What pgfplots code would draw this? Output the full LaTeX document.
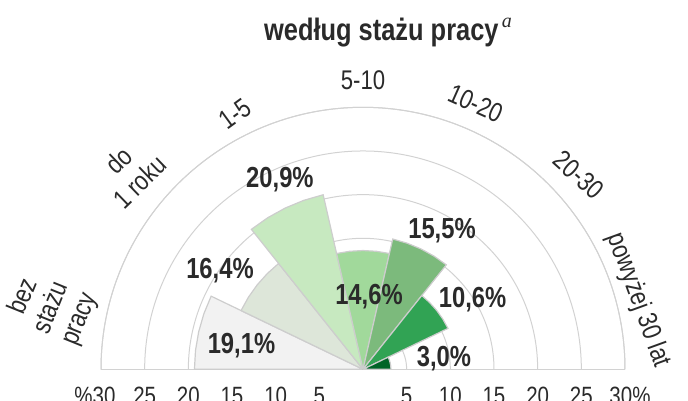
\documentclass[border=0pt]{standalone}
\usepackage{fontspec}
\setmainfont{Liberation Sans}[FakeStretch=0.82]
\newfontfamily\supfont{Liberation Serif}
\usepackage{pgfplots}
\pgfplotsset{compat=1.18}
\usepgfplotslibrary{polar}
\usetikzlibrary{calc}

\definecolor{gridgray}{HTML}{D2D2D2}
\definecolor{sectline}{HTML}{CDCDCD}
\definecolor{txt}{HTML}{2A2A2A}
\definecolor{g0}{HTML}{F2F2F2}
\definecolor{g1}{HTML}{DDE6D9}
\definecolor{g2}{HTML}{C7E9C0}
\definecolor{g3}{HTML}{A1D99B}
\definecolor{g4}{HTML}{7CBA7C}
\definecolor{g5}{HTML}{31A354}
\definecolor{g6}{HTML}{006428}

% one wedge: #1 = slot counted from the right (0..6), #2 = radius, #3 = colour
\newcommand{\sector}[3]{%
  \pgfmathsetmacro\thA{#1*180/7}%
  \pgfmathsetmacro\thB{\thA+180/28}%
  \pgfmathsetmacro\thC{\thA+2*180/28}%
  \pgfmathsetmacro\thD{\thA+3*180/28}%
  \pgfmathsetmacro\thE{\thA+4*180/28}%
  \edef\doplot{\noexpand\addplot[fill=#3,draw=sectline,line width=1.2pt,line join=miter]
    coordinates {(0,0) (\thA,#2) (\thB,#2) (\thC,#2) (\thD,#2) (\thE,#2) (0,0)};}%
  \doplot
}

\begin{document}
\begin{tikzpicture}[every node/.style={text=txt}]
\begin{polaraxis}[
  scale only axis, width=524pt,
  xmin=0, xmax=180, ymin=0, ymax=30,
  xtick=\empty, ytick={5,10,...,30}, yticklabels={},
  ymajorgrids=true, xmajorgrids=false,
  major tick length=0pt,
  grid style={draw=gridgray, line width=1pt},
  axis line style={draw=gridgray, line width=1pt},
  clip=false,
]
\sector{6}{19.3}{g0}
\sector{5}{15.5}{g1}
\sector{4}{20.5}{g2}
\sector{3}{13.6}{g3}
\sector{2}{15.3}{g4}
\sector{1}{10.8}{g5}
\sector{0}{3.2}{g6}

\coordinate (O) at (axis cs:0,0);

% value labels
\begin{scope}[every node/.append style={font=\fontsize{29}{32}\selectfont\bfseries}]
\node at (axis cs:169.1,14.17) {19,1\%};
\node at (axis cs:145.5,19.87) {16,4\%};
\node at (axis cs:113.7,23.67) {20,9\%};
\node at (axis cs:85.3,8.34) {14,6\%};
\node at (axis cs:60.35,18.29) {15,5\%};
\node at (axis cs:32.3,14.84) {10,6\%};
\node at (axis cs:7.25,9.35) {3,0\%};
\end{scope}

% category labels
\begin{scope}[every node/.append style={font=\fontsize{27}{30}\selectfont, align=center}]
\node[rotate=68] at (axis cs:168.85,36.3) {bez\\stażu\\pracy};
\node[rotate=44] at (axis cs:139.7,35.1) {do\\1 roku};
\node[rotate=36] at (axis cs:116.6,32.7) {1-5};
\node at (axis cs:90,33.1) {5-10};
\node[rotate=-24] at (axis cs:66.97,33.07) {10-20};
\node[rotate=-42] at (axis cs:41.97,33.27) {20-30};
\node[rotate=-70] at (axis cs:14.1,32.5) {powyżej 30 lat};
\end{scope}

% radial scale along the base line
\begin{scope}[every node/.append style={font=\fontsize{25}{28}\selectfont, anchor=base, yshift=-35.3pt}]
\node at (axis cs:180,5) {5};
\node at (axis cs:180,10) {10};
\node at (axis cs:180,15) {15};
\node at (axis cs:180,20) {20};
\node at (axis cs:180,25) {25};
\node[xshift=-6pt] at (axis cs:180,30) {\%30};
\node at (axis cs:0,5) {5};
\node at (axis cs:0,10) {10};
\node at (axis cs:0,15) {15};
\node at (axis cs:0,20) {20};
\node at (axis cs:0,25) {25};
\node[xshift=5pt] at (axis cs:0,30) {30\%};
\end{scope}
\end{polaraxis}

\node[anchor=base, font=\fontsize{31}{36}\selectfont\bfseries] at ($(O)+(25pt,329pt)$)
  {według stażu pracy\raisebox{13pt}{\fontsize{20}{20}\selectfont\supfont\itshape\mdseries\,a}};

\pgfresetboundingbox
\path[use as bounding box] ($(O)+(-363pt,-31.7pt)$) rectangle ($(O)+(325pt,369.3pt)$);
\end{tikzpicture}
\end{document}
